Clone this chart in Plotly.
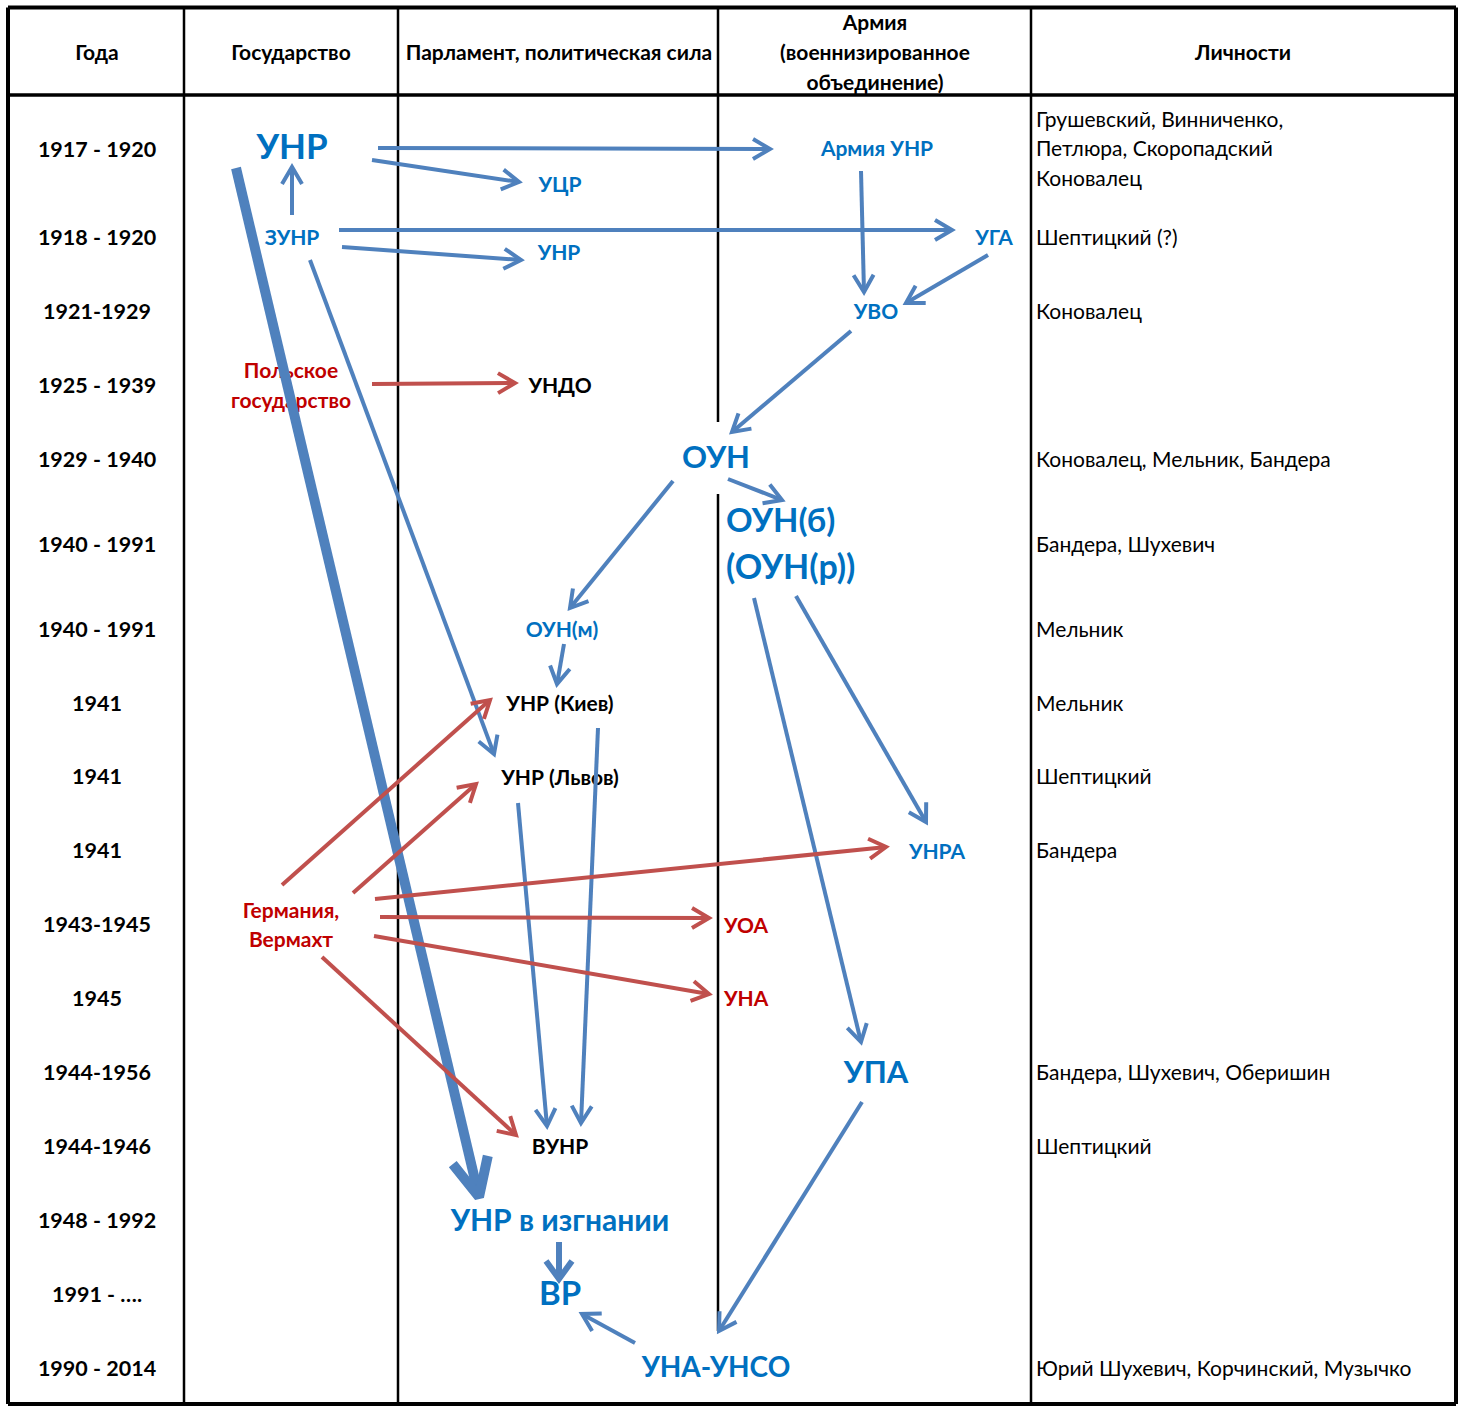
import numpy as np
import plotly.graph_objects as go

W, H = 1463, 1409
FONT = "Lato, 'Noto Sans', sans-serif"
DY = 2.5  # baseline correction for text placement

BLUE_TXT, RED_TXT, BLACK = "#0070C0", "#C00000", "#000000"
BLUE_ARR, RED_ARR = "#4F81BD", "#C0504D"

# ---------------- data ----------------
header_labels = ["Года", "Государство", "Парламент, политическая сила",
                 "Армия", "(военнизированное", "объединение)", "Личности"]
header_x = [97, 291, 559, 875, 875, 875, 1243]
header_y = [52, 52, 52, 22, 52, 82, 52]

years = ["1917 - 1920", "1918 - 1920", "1921-1929", "1925 - 1939", "1929 - 1940",
         "1940 - 1991", "1940 - 1991", "1941", "1941", "1941", "1943-1945", "1945",
         "1944-1956", "1944-1946", "1948 - 1992", "1991 - ….", "1990 - 2014"]
year_y = [149, 237, 311, 385, 459, 544, 629, 703, 776, 850, 924, 998, 1072, 1146,
          1220, 1294, 1368]

persons = ["Грушевский, Винниченко,", "Петлюра, Скоропадский", "Коновалец",
           "Шептицкий (?)", "Коновалец", "Коновалец, Мельник, Бандера",
           "Бандера, Шухевич", "Мельник", "Мельник", "Шептицкий", "Бандера",
           "Бандера, Шухевич, Оберишин", "Шептицкий",
           "Юрий Шухевич, Корчинский, Музычко"]
person_y = [119, 148, 178, 237, 311, 459, 544, 629, 703, 776, 850, 1072, 1146, 1368]

node_labels = ["УНР", "ЗУНР", "УЦР", "УНР", "Армия УНР", "УГА", "УВО",
               "Польское", "государство", "УНДО", "ОУН", "ОУН(б)", "(ОУН(р))",
               "ОУН(м)", "УНР (Киев)", "УНР (Львов)", "УНРА", "Германия,",
               "Вермахт", "УОА", "УНА", "УПА", "ВУНР", "УНР в изгнании", "ВР",
               "УНА-УНСО"]
node_x = [292, 292, 560, 559, 877, 994, 876, 291, 291, 560, 716, 726, 726, 562,
          560, 560, 937, 291, 291, 724, 724, 876, 560, 560, 560, 716]
node_y = [148, 237, 184, 252, 148, 237, 311, 370, 400, 385, 458, 521, 568, 629,
          703, 777, 851, 910, 939, 925, 998, 1073, 1146, 1221, 1294, 1367]
node_kind = ["b", "b", "b", "b", "b", "b", "b", "r", "r", "k", "b", "b", "b", "b",
             "k", "k", "b", "r", "r", "r", "r", "b", "k", "b", "b", "b"]
node_size = [35, 21, 21, 21, 21, 21, 21, 21, 21, 21, 31, 33, 34, 21, 21, 21, 21,
             21, 21, 21, 21, 31, 21, 30, 33, 28]
node_align = ["c", "c", "c", "c", "c", "c", "c", "c", "c", "c", "c", "l", "l", "c",
              "c", "c", "c", "c", "c", "l", "l", "c", "c", "c", "c", "c"]

# arrows: start / end points, colour kind, shaft width, head length, head half-width
arrow_x0 = [378, 372, 292, 339, 342, 861, 988, 851, 728, 673, 310, 236, 564, 598,
            518, 796, 754, 862, 635, 559,
            372, 282, 353, 375, 380, 374, 322]
arrow_y0 = [148, 160, 215, 230, 247, 171, 255, 331, 479, 481, 260, 168, 644, 728,
            803, 596, 598, 1102, 1343, 1242,
            384, 885, 893, 899, 917, 936, 957]
arrow_x1 = [770, 519, 292, 952, 521, 864, 906, 732, 782, 570, 494, 479, 557, 581,
            547, 926, 861, 719, 582, 559,
            515, 490, 476, 886, 709, 709, 516]
arrow_y1 = [149, 182, 167, 230, 260, 292, 303, 432, 500, 608, 754, 1197, 684, 1123,
            1126, 822, 1042, 1331, 1314, 1279,
            383, 700, 784, 847, 918, 994, 1135]
arrow_kind = ["b"] * 20 + ["r"] * 7
arrow_w = [4, 4, 4, 4, 4, 4, 4, 4, 4, 4, 4, 10, 4, 4, 4, 4, 4, 4, 4, 6,
           4, 4, 4, 4, 4, 4, 4]
arrow_hl = [17, 17, 17, 17, 17, 17, 17, 17, 17, 17, 17, 38, 17, 17, 17, 17, 17, 17,
            17, 18, 17, 17, 17, 17, 17, 17, 17]
arrow_hw = [10, 10, 10, 10, 10, 10, 10, 10, 10, 10, 10, 18, 10, 10, 10, 10, 10, 10,
            10, 13, 10, 10, 10, 10, 10, 10, 10]

# ---------------- table geometry ----------------
X_LEFT, X_RIGHT, Y_TOP, Y_BOT, Y_HEAD = 8, 1456, 7.5, 1404, 95
COLS = [184, 398, 718, 1031]

color_of = {"b": BLUE_TXT, "r": RED_TXT, "k": BLACK}
arrow_color = {"b": BLUE_ARR, "r": RED_ARR}

fig = go.Figure()


def sh(ys):
    return [v + DY for v in ys]


# header
fig.add_trace(go.Scatter(x=header_x, y=sh(header_y), mode="text", text=header_labels,
                         textposition="middle center",
                         textfont=dict(family=FONT, size=21, color=BLACK, weight="bold"),
                         hoverinfo="skip", showlegend=False))
# years
fig.add_trace(go.Scatter(x=[97] * len(years), y=sh(year_y), mode="text", text=years,
                         textposition="middle center",
                         textfont=dict(family=FONT, size=21.5, color=BLACK, weight="bold"),
                         hoverinfo="skip", showlegend=False))
# persons
fig.add_trace(go.Scatter(x=[1036] * len(persons), y=sh(person_y), mode="text",
                         text=persons, textposition="middle right",
                         textfont=dict(family=FONT, size=21, color=BLACK, weight="normal"),
                         hoverinfo="skip", showlegend=False))
# nodes
for i, lab in enumerate(node_labels):
    fig.add_trace(go.Scatter(
        x=[node_x[i]], y=[node_y[i] + DY], mode="text", text=[lab],
        textposition="middle center" if node_align[i] == "c" else "middle right",
        textfont=dict(family=FONT, size=node_size[i], color=color_of[node_kind[i]],
                      weight="bold"),
        hoverinfo="skip", showlegend=False))

# arrows
for i in range(len(arrow_x0)):
    p0 = np.array([arrow_x0[i], arrow_y0[i]], float)
    p1 = np.array([arrow_x1[i], arrow_y1[i]], float)
    d = (p1 - p0) / np.linalg.norm(p1 - p0)
    n = np.array([-d[1], d[0]])
    a1 = p1 - arrow_hl[i] * d + arrow_hw[i] * n
    a2 = p1 - arrow_hl[i] * d - arrow_hw[i] * n
    base = p1 - 0.5 * arrow_w[i] * d
    xs = [p0[0], base[0], None, a1[0], p1[0], a2[0]]
    ys = [p0[1], base[1], None, a1[1], p1[1], a2[1]]
    fig.add_trace(go.Scatter(x=xs, y=ys, mode="lines",
                             line=dict(color=arrow_color[arrow_kind[i]], width=arrow_w[i]),
                             hoverinfo="skip", showlegend=False))

# table lines
shapes = []


def ln(x0, y0, x1, y1, w):
    shapes.append(dict(type="line", xref="x", yref="y", x0=x0, y0=y0, x1=x1, y1=y1,
                       line=dict(color="black", width=w), layer="below"))


ln(X_LEFT, Y_TOP, X_RIGHT, Y_TOP, 4)
ln(X_LEFT, Y_BOT, X_RIGHT, Y_BOT, 4)
ln(X_LEFT, Y_TOP, X_LEFT, Y_BOT, 4)
ln(X_RIGHT, Y_TOP, X_RIGHT, Y_BOT, 4)
ln(X_LEFT, Y_HEAD, X_RIGHT, Y_HEAD, 3.5)
ln(COLS[0], Y_TOP, COLS[0], Y_BOT, 2.5)
ln(COLS[1], Y_TOP, COLS[1], Y_BOT, 2.5)
ln(COLS[2], Y_TOP, COLS[2], 422, 2.5)
ln(COLS[2], 494, COLS[2], 1331, 2.5)
ln(COLS[3], Y_TOP, COLS[3], Y_BOT, 2.5)

fig.update_layout(
    width=W, height=H, margin=dict(l=0, r=0, t=0, b=0),
    paper_bgcolor="white", plot_bgcolor="white", shapes=shapes,
    xaxis=dict(range=[0, W], visible=False, fixedrange=True),
    yaxis=dict(range=[H, 0], visible=False, fixedrange=True),
    showlegend=False,
)

fig.write_html("out.html", config={"displayModeBar": False},
               post_script="document.body.style.margin='0';document.body.style.overflow='hidden';")
